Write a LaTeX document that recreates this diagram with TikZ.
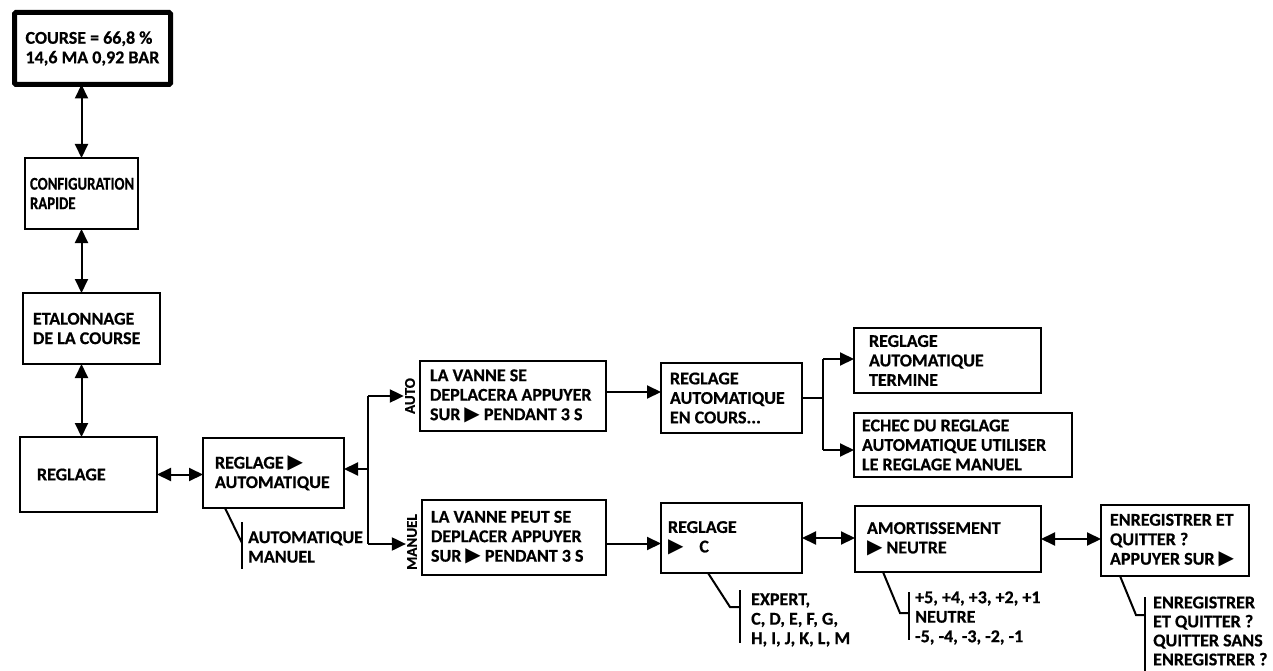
\documentclass[tikz,border=0pt]{standalone}
\usepackage{fontspec}
\setmainfont{Carlito}[BoldFeatures={FakeBold=0.6}]
\newfontfamily\condfont{Carlito}[FakeStretch=0.82,BoldFeatures={FakeBold=0.6}]
\newfontfamily\symfont{DejaVu Sans}
\usetikzlibrary{arrows.meta,positioning}
\newcommand{\boxfont}{\bfseries\fontsize{18}{19.5}\selectfont}
\newcommand{\playtri}{{\symfont\fontsize{20}{17}\selectfont ▶}}
\tikzset{
    menubox/.style={draw=black,line width=2pt,outer sep=0pt,inner ysep=0pt,anchor=north west,align=flush left,font=\boxfont},
    optlist/.style={anchor=west,inner sep=0pt,align=flush left,font=\boxfont},
    sidelabel/.style={rotate=90,inner sep=1pt,font=\bfseries\fontsize{15}{15}\selectfont},
    arr/.style={line width=2pt,-{Triangle[length=14pt,width=13pt]}},
    darr/.style={line width=2pt,{Triangle[length=14pt,width=13pt]}-{Triangle[length=14pt,width=13pt]}},
    bracket/.style={line width=2pt}
}
\begin{document}
\begin{tikzpicture}[x=1pt,y=-1pt]
  \useasboundingbox (0,0) rectangle (1273,671);
  % left column
  \node[menubox,line width=5pt,rounded corners=1.5pt,inner xsep=11pt,text width=134pt,minimum height=72pt] (course) at (14.5,12.5) {COURSE = 66,8 \%\\14,6 MA 0,92 BAR};
  \node[menubox,inner xsep=5pt,text width=103pt,minimum height=71pt,font=\condfont\boxfont] (config) at (25,158) {CONFIGURATION\\RAPIDE};
  \node[menubox,inner xsep=10pt,text width=117pt,minimum height=71pt] (etal) at (23,293) {ETALONNAGE\\DE LA COURSE};
  \node[menubox,inner xsep=17pt,text width=103pt,minimum height=75pt] (reglage) at (20,437) {REGLAGE};
  \draw[darr] (config.north |- course.south) -- (config.north);
  \draw[darr] (config.south) -- (config.south |- etal.north);
  \draw[darr] (config.south |- etal.south) -- (config.south |- reglage.north);
  % reglage automatique / manuel
  \node[menubox,inner xsep=12pt,text width=117pt,minimum height=70pt] (rauto) at (203,438) {REGLAGE \playtri\\AUTOMATIQUE};
  \draw[darr] (reglage.east) -- (reglage.east -| rauto.west);
  \draw[bracket] ([xshift=22pt]rauto.south west) -- (242,543);
  \draw[bracket] (242,522) -- (242,569);
  \node[optlist] (rautoopt) at (248,547) {AUTOMATIQUE\\MANUEL};
  \coordinate (forkA) at (368,396);
  \coordinate (forkR) at (368,469);
  \coordinate (forkM) at (368,544);
  \draw[bracket] (forkA) -- (forkM);
  \draw[arr] (forkR) -- (forkR -| rauto.east);
  \node[sidelabel] (auto) at (410,396) {AUTO};
  \node[sidelabel] (manuel) at (412,542) {MANUEL};
  \draw[arr] (forkA) -- (forkA -| auto.north);
  \draw[arr] (forkM) -- (forkM -| manuel.north);
  % branche auto
  \node[menubox,inner xsep=10pt,text width=166pt,minimum height=70pt] (vanneA) at (420,361) {LA VANNE SE\\DEPLACERA APPUYER\\SUR \playtri{} PENDANT 3 S};
  \node[menubox,inner xsep=9pt,text width=123pt,minimum height=70pt] (encours) at (661,363) {REGLAGE\\AUTOMATIQUE\\EN COURS...};
  \node[menubox,inner xsep=15pt,text width=157pt,minimum height=65pt] (termine) at (854,328) {REGLAGE\\AUTOMATIQUE\\TERMINE};
  \node[menubox,inner xsep=8pt,text width=202pt,minimum height=64pt] (echec) at (854,413) {ECHEC DU REGLAGE\\AUTOMATIQUE UTILISER\\LE REGLAGE MANUEL};
  \draw[arr] ([yshift=4pt]vanneA.east) -- ([yshift=4pt]vanneA.east -| encours.west);
  \coordinate (forkBtop) at (823,359);
  \coordinate (forkBbot) at (823,450);
  \draw[bracket] (forkBtop) -- (forkBbot);
  \draw[bracket] (encours.east) -- (encours.east -| forkBtop);
  \draw[arr] (forkBtop) -- (forkBtop -| termine.west);
  \draw[arr] (forkBbot) -- (forkBbot -| echec.west);
  % branche manuel
  \node[menubox,inner xsep=9pt,text width=166pt,minimum height=75pt] (vanneM) at (422,500) {LA VANNE PEUT SE\\DEPLACER APPUYER\\SUR \playtri{} PENDANT 3 S};
  \node[menubox,inner xsep=7pt,text width=127pt,minimum height=70pt] (reglC) at (661,503) {REGLAGE\\\playtri\hspace{16pt}C};
  \node[menubox,inner xsep=12pt,text width=162pt,minimum height=66pt] (amort) at (855,506) {AMORTISSEMENT\\\playtri{} NEUTRE};
  \node[menubox,inner xsep=9pt,text width=130pt,minimum height=71pt] (save) at (1101,505) {ENREGISTRER ET\\QUITTER ?\\APPUYER SUR \playtri};
  \draw[arr] ([yshift=-6pt]vanneM.east) -- ([yshift=-6pt]vanneM.east -| reglC.west);
  \draw[darr] (reglC.east) -- (reglC.east -| amort.west);
  \draw[darr] (amort.east) -- (amort.east -| save.west);
  % listes de choix
  \draw[bracket] ([xshift=47pt]reglC.south west) -- (730,607) -- (740,607);
  \draw[bracket] (740,590) -- (740,643);
  \node[optlist] (reglCopt) at (751,620) {EXPERT,\\C, D, E, F, G,\\H, I, J, K, L, M};
  \draw[bracket] ([xshift=28pt]amort.south west) -- (900,613) -- (909,613);
  \draw[bracket] (909,592) -- (909,640);
  \node[optlist] (amortopt) at (915,618) {+5, +4, +3, +2, +1\\NEUTRE\\-5, -4, -3, -2, -1};
  \draw[bracket] ([xshift=19pt]save.south west) -- (1136,615) -- (1145,615);
  \draw[bracket] (1145,597) -- (1145,671);
  \node[optlist,font=\bfseries\fontsize{18}{19}\selectfont] (saveopt) at (1153,631) {ENREGISTRER\\ET QUITTER ?\\QUITTER SANS\\ENREGISTRER ?};
\end{tikzpicture}
\end{document}
